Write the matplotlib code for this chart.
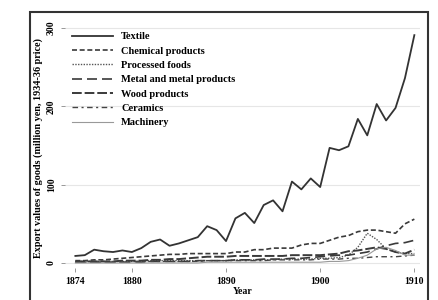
import matplotlib
matplotlib.use("Agg")
import matplotlib.pyplot as plt
from matplotlib.patches import Rectangle

years = list(range(1874, 1911))
textile = [9, 10, 17, 15, 14, 16, 14, 19, 27, 30, 22, 25, 29, 33, 47, 42, 28, 57, 64, 51,
           74, 80, 66, 104, 94, 108, 97, 147, 144, 149, 184, 163, 203, 182, 198, 236, 291]
chemical = [3, 3, 4, 4, 5, 6, 7, 8, 9, 10, 11, 11, 12, 12, 12, 12, 12, 14, 14, 17,
            17, 19, 19, 19, 23, 25, 25, 29, 33, 35, 40, 42, 42, 40, 38, 50, 56]
processed = [2, 2, 2, 2, 2, 2, 2, 2, 3, 3, 3, 3, 3, 3, 3, 3, 3, 4, 4, 4,
             4, 4, 5, 5, 5, 5, 6, 6, 7, 10, 20, 38, 30, 18, 14, 12, 12]
metal = [1, 1, 1, 1, 1, 1, 1, 1, 2, 2, 2, 2, 2, 3, 3, 3, 3, 4, 4, 4,
         5, 5, 5, 6, 6, 7, 8, 9, 10, 10, 12, 14, 18, 22, 25, 26, 29]
wood = [2, 2, 2, 2, 2, 3, 3, 3, 4, 4, 5, 5, 6, 7, 8, 8, 8, 9, 9, 9,
        9, 9, 9, 10, 10, 10, 10, 11, 12, 15, 16, 18, 20, 18, 14, 12, 17]
ceramics = [1, 1, 1, 1, 1, 1, 2, 2, 2, 2, 2, 2, 2, 2, 3, 3, 3, 3, 3, 3,
            3, 4, 4, 4, 4, 4, 5, 5, 5, 6, 6, 7, 8, 8, 8, 9, 10]
machinery = [0, 0, 0, 0, 0, 0, 0, 0, 0, 0, 0, 0, 0, 0, 1, 1, 1, 1, 1, 1,
             1, 1, 1, 1, 1, 1, 1, 2, 2, 3, 6, 10, 18, 20, 16, 10, 10]

series = [
    ("Textile", textile, dict(color="#333333", lw=1.3, linestyle="-")),
    ("Chemical products", chemical, dict(color="#3a3a3a", lw=1.2, linestyle=(0, (3, 1.6)))),
    ("Processed foods", processed, dict(color="#555555", lw=1.0, linestyle=(0, (1, 1)))),
    ("Metal and metal products", metal, dict(color="#3a3a3a", lw=1.2, linestyle=(0, (6, 3)))),
    ("Wood products", wood, dict(color="#3a3a3a", lw=1.4, linestyle=(0, (5, 1.5)))),
    ("Ceramics", ceramics, dict(color="#444444", lw=1.0, linestyle=(0, (4, 2.5, 1.5, 2.5)))),
    ("Machinery", machinery, dict(color="#999999", lw=0.8, linestyle="-")),
]

serif = ["Liberation Serif", "DejaVu Serif"]
plt.rcParams["font.family"] = serif

fig = plt.figure(figsize=(4.39, 3.0), dpi=100)
ax = fig.add_axes([65 / 439, 1 - 268 / 300, 355 / 439, (268 - 27.3) / 300])

for name, vals, st in series:
    ax.plot(years, vals, label=name, **st)

ax.set_xlim(1872.9, 1910.6)
ax.set_ylim(-6.4, 301)
ax.set_xticks([1874, 1880, 1890, 1900, 1910])
ax.set_yticks([0, 100, 200, 300])
ax.grid(axis="y", color="#e6e6e6", lw=0.8)
ax.set_axisbelow(True)
for s in ax.spines.values():
    s.set_visible(False)
ax.tick_params(axis="both", length=3, width=0.6, color="#888888", labelsize=7)
for lbl in ax.get_xticklabels():
    lbl.set_fontweight("bold")
for lbl in ax.get_yticklabels():
    lbl.set_fontweight("bold")
    lbl.set_rotation(90)
    lbl.set_va("center")
ax.set_xlabel("Year", fontsize=7, fontweight="bold", labelpad=1)
ax.set_ylabel("Export values of goods (million yen, 1934-36 price)", fontsize=7.3,
              fontweight="bold", labelpad=3)

leg = ax.legend(loc="upper left", frameon=False, fontsize=7.5, handlelength=3.9,
                labelspacing=0.48, borderaxespad=0.3, bbox_to_anchor=(0.0, 1.01))
for t in leg.get_texts():
    t.set_fontweight("bold")

rect = Rectangle((30 / 439, -0.2), (428 - 30) / 439, 1.2 - 12 / 300 + 0.0,
                 transform=fig.transFigure, fill=False, edgecolor="#333333", lw=1.5,
                 clip_on=False)
fig.add_artist(rect)

fig.savefig("out.png", dpi=100)
